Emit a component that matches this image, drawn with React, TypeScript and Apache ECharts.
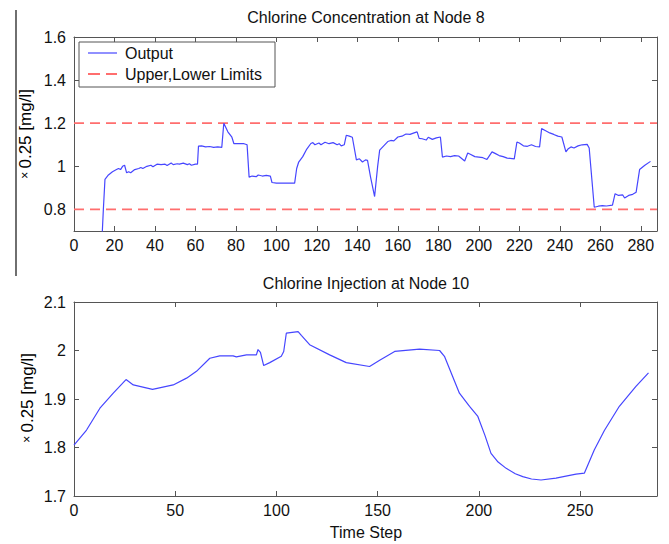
import React, { useEffect, useRef } from "react";
import * as echarts from "echarts";

// Chlorine concentration at node 8 (time step, value)
const concTime = [13.5, 14.5, 15.3, 17, 19, 21, 22, 23, 24, 25, 26, 27, 28, 30, 32, 33, 34, 36, 38, 39, 41, 43, 45, 46, 48, 49, 51, 52, 54, 56, 57, 58, 60, 61, 61.5, 63, 65, 67, 69, 71, 73, 74, 76, 78, 79, 82, 84, 85.5, 86.5, 88, 90, 91, 93, 95, 97, 97.8, 100, 105, 109, 110, 111, 113, 115, 117, 118, 119, 121, 122, 124, 126, 128, 130, 131, 132, 133.5, 134.5, 136, 137.5, 139.5, 141, 142.5, 144, 145, 146.5, 148.5, 150, 151, 153, 155, 156.5, 158, 160, 162, 164, 166, 168, 169.5, 170.5, 172, 174, 175, 177, 179, 181, 182, 184, 186, 188, 190, 193, 194.5, 196, 198, 200, 202, 204, 206.5, 208, 210, 212, 214, 217.5, 218.8, 220, 222, 224, 226, 228, 230, 231, 233, 235, 237, 239, 241, 243, 244, 245.5, 247, 249, 251, 253.5, 254.5, 257, 259, 261, 263, 266, 267.3, 269, 271, 272, 274, 276, 277.7, 279.4, 282, 284.8];
const concValue = [0.6, 0.8, 0.94, 0.96, 0.975, 0.985, 0.99, 0.985, 1.0, 1.005, 0.97, 0.975, 0.97, 0.985, 0.99, 0.995, 0.99, 1.0, 1.005, 0.998, 1.01, 1.008, 1.01, 1.004, 1.015, 1.008, 1.012, 1.01, 1.015, 1.008, 1.012, 1.005, 1.01, 1.01, 1.094, 1.095, 1.09, 1.092, 1.088, 1.09, 1.088, 1.2, 1.16, 1.135, 1.105, 1.106, 1.105, 1.1, 0.95, 0.955, 0.952, 0.96, 0.955, 0.958, 0.955, 0.925, 0.922, 0.922, 0.922, 0.99, 1.02, 1.045, 1.08, 1.106, 1.11, 1.1, 1.108, 1.1, 1.112, 1.105, 1.11, 1.1, 1.105, 1.095, 1.1, 1.144, 1.14, 1.135, 1.03, 1.035, 1.02, 1.03, 1.028, 0.95, 0.86, 1.0, 1.075, 1.095, 1.115, 1.12, 1.118, 1.136, 1.14, 1.15, 1.148, 1.155, 1.16, 1.13, 1.128, 1.122, 1.135, 1.125, 1.132, 1.136, 1.043, 1.048, 1.045, 1.05, 1.048, 1.025, 1.062, 1.055, 1.045, 1.043, 1.04, 1.032, 1.067, 1.06, 1.05, 1.045, 1.038, 1.035, 1.113, 1.108, 1.095, 1.093, 1.1, 1.092, 1.09, 1.175, 1.165, 1.155, 1.148, 1.14, 1.136, 1.067, 1.08, 1.09, 1.085, 1.095, 1.1, 1.102, 1.085, 0.81, 0.815, 0.818, 0.816, 0.82, 0.873, 0.865, 0.868, 0.853, 0.865, 0.87, 0.88, 0.985, 1.005, 1.023];

// Limits
const upperLimit = 1.2;
const lowerLimit = 0.8;

// Chlorine injection at node 10 (time step, value)
const injTime = [0, 6.2, 12.8, 19.4, 25.7, 29.3, 38.8, 49, 55.6, 60.5, 67.1, 72, 78.6, 80.2, 85.2, 90.1, 90.9, 92.1, 93.7, 96.7, 102.4, 103.6, 104.9, 110.7, 112.3, 116.4, 126.3, 134.5, 146, 151, 158.4, 170.7, 180.6, 183, 190.4, 195.4, 199.5, 203, 206, 209.5, 213.5, 218, 221.7, 226, 230.7, 238.1, 243, 248, 252.1, 257, 262, 269.4, 274, 277.6, 283.8];
const injValue = [1.805, 1.836, 1.881, 1.912, 1.94, 1.929, 1.92, 1.929, 1.943, 1.957, 1.984, 1.989, 1.989, 1.987, 1.991, 1.991, 2.002, 1.996, 1.969, 1.975, 1.988, 1.998, 2.036, 2.039, 2.031, 2.012, 1.991, 1.975, 1.967, 1.98, 1.998, 2.003, 2.0, 1.988, 1.912, 1.885, 1.864, 1.825, 1.788, 1.77, 1.757, 1.746, 1.74, 1.735, 1.733, 1.737, 1.741, 1.745, 1.747, 1.795, 1.835, 1.885, 1.908, 1.926, 1.954];

// Tick labels
const topXTicks = [0, 20, 40, 60, 80, 100, 120, 140, 160, 180, 200, 220, 240, 260, 280];
const topYTicks = [0.8, 1, 1.2, 1.4, 1.6];
const botXTicks = [0, 50, 100, 150, 200, 250];
const botYTicks = [1.7, 1.8, 1.9, 2, 2.1];

const titleTop = "Chlorine Concentration at Node 8";
const titleBottom = "Chlorine Injection at Node 10";
const xName = "Time Step";

const FONT = "'Liberation Sans', Arial, sans-serif";
const AXIS_COLOR = "#555";
const TEXT_COLOR = "#111";
const BLUE = "#4646ff";
const RED = "#ff6e6e";

const fmt = (v: number) => String(Math.round(v * 1000) / 1000);

function xAxisDef(gridIndex: number, ticks: number[], position: "bottom" | "top", min: number, max: number) {
  const showLabel = position === "bottom";
  return {
    type: "value",
    gridIndex,
    position,
    min,
    max,
    axisLine: { show: true, onZero: false, lineStyle: { color: AXIS_COLOR, width: 1 } },
    axisTick: { show: true, inside: true, length: 5, customValues: ticks, lineStyle: { color: AXIS_COLOR } },
    axisLabel: {
      show: showLabel,
      customValues: ticks,
      margin: 6,
      color: TEXT_COLOR,
      fontFamily: FONT,
      fontSize: 16,
      formatter: fmt,
    },
    splitLine: { show: false },
  };
}

function yAxisDef(gridIndex: number, ticks: number[], position: "left" | "right", min: number, max: number) {
  const showLabel = position === "left";
  return {
    type: "value",
    gridIndex,
    position,
    min,
    max,
    axisLine: { show: true, onZero: false, lineStyle: { color: AXIS_COLOR, width: 1 } },
    axisTick: { show: true, inside: true, length: 5, customValues: ticks, lineStyle: { color: AXIS_COLOR } },
    axisLabel: {
      show: showLabel,
      customValues: ticks,
      margin: 8,
      color: TEXT_COLOR,
      fontFamily: FONT,
      fontSize: 16,
      formatter: fmt,
    },
    splitLine: { show: false },
  };
}

export default function App() {
  const ref = useRef<HTMLDivElement>(null);
  useEffect(() => {
    if (!ref.current) return;
    const chart = echarts.init(ref.current, null, { renderer: "svg" });
    const concData = concTime.map((t, i) => [t, concValue[i]]);
    const injData = injTime.map((t, i) => [t, injValue[i]]);
    const upperData = [[0, upperLimit], [288, upperLimit]];
    const lowerData = [[0, lowerLimit], [288, lowerLimit]];

    const yNameRich = {
      x: { fontSize: 12, fontFamily: FONT, color: "#333" },
      t: { fontSize: 17, fontFamily: FONT, color: TEXT_COLOR },
    };

    chart.setOption({
      animation: false,
      backgroundColor: "#fff",
      grid: [
        { left: 74, top: 37, width: 583, height: 194 },
        { left: 74, top: 302, width: 583, height: 194 },
      ],
      xAxis: [
        xAxisDef(0, topXTicks, "bottom", 0, 288),
        xAxisDef(0, topXTicks, "top", 0, 288),
        xAxisDef(1, botXTicks, "bottom", 0, 288),
        xAxisDef(1, botXTicks, "top", 0, 288),
      ],
      yAxis: [
        yAxisDef(0, topYTicks, "left", 0.7, 1.6),
        yAxisDef(0, topYTicks, "right", 0.7, 1.6),
        yAxisDef(1, botYTicks, "left", 1.7, 2.1),
        yAxisDef(1, botYTicks, "right", 1.7, 2.1),
      ],
      series: [
        {
          name: "Upper,Lower Limits",
          type: "line",
          xAxisIndex: 0,
          yAxisIndex: 0,
          data: upperData,
          showSymbol: false,
          lineStyle: { color: RED, width: 1.8, type: [10, 6] },
          silent: true,
        },
        {
          name: "Lower",
          type: "line",
          xAxisIndex: 0,
          yAxisIndex: 0,
          data: lowerData,
          showSymbol: false,
          lineStyle: { color: RED, width: 1.8, type: [10, 6] },
          silent: true,
        },
        {
          name: "Output",
          type: "line",
          xAxisIndex: 0,
          yAxisIndex: 0,
          data: concData,
          showSymbol: false,
          clip: true,
          lineStyle: { color: BLUE, width: 1.2 },
        },
        {
          name: "Injection",
          type: "line",
          xAxisIndex: 2,
          yAxisIndex: 2,
          data: injData,
          showSymbol: false,
          clip: true,
          lineStyle: { color: BLUE, width: 1.2 },
        },
      ],
      graphic: [
        // stray vertical rule at left edge
        { type: "line", shape: { x1: 16, y1: 10, x2: 16, y2: 276 }, style: { stroke: "#222", lineWidth: 1.3 } },
        // titles
        { type: "text", x: 366, y: 17, style: { text: titleTop, align: "center", verticalAlign: "middle", font: `16px ${FONT}`, fill: TEXT_COLOR } },
        { type: "text", x: 366, y: 283, style: { text: titleBottom, align: "center", verticalAlign: "middle", font: `16px ${FONT}`, fill: TEXT_COLOR } },
        { type: "text", x: 366, y: 532, style: { text: xName, align: "center", verticalAlign: "middle", font: `16px ${FONT}`, fill: TEXT_COLOR } },
        // y-axis names
        {
          type: "text", x: 25, y: 134, rotation: Math.PI / 2,
          style: { text: "{x|×} {t|0.25 [mg/l]}", rich: yNameRich, align: "center", verticalAlign: "middle" },
        },
        {
          type: "text", x: 27, y: 398, rotation: Math.PI / 2,
          style: { text: "{x|×} {t|0.25 [mg/l]}", rich: yNameRich, align: "center", verticalAlign: "middle" },
        },
        // legend
        {
          type: "group",
          children: [
            { type: "rect", shape: { x: 79, y: 42, width: 196, height: 45 }, style: { fill: "#fff", stroke: AXIS_COLOR, lineWidth: 1 } },
            { type: "line", shape: { x1: 88, y1: 53, x2: 117, y2: 53 }, style: { stroke: BLUE, lineWidth: 1.2 } },
            { type: "text", x: 125, y: 53, style: { text: "Output", verticalAlign: "middle", font: `16px ${FONT}`, fill: TEXT_COLOR } },
            { type: "line", shape: { x1: 88, y1: 74, x2: 117, y2: 74 }, style: { stroke: RED, lineWidth: 1.8, lineDash: [12, 6] } },
            { type: "text", x: 125, y: 74, style: { text: "Upper,Lower Limits", verticalAlign: "middle", font: `16px ${FONT}`, fill: TEXT_COLOR } },
          ],
        },
      ],
    });
    return () => chart.dispose();
  }, []);
  return <div ref={ref} style={{ position: "fixed", left: 0, top: 0, width: 669, height: 544 }} />;
}
